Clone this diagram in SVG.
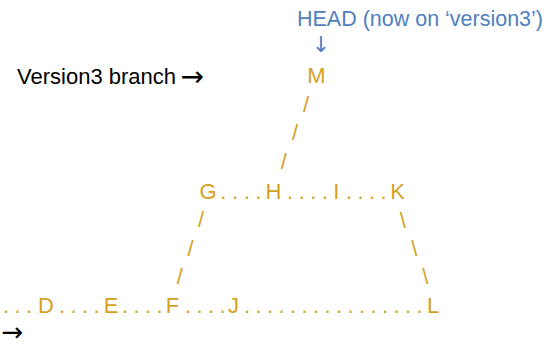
<svg xmlns="http://www.w3.org/2000/svg" width="548" height="347" viewBox="0 0 548 347">
  <style>
    text { font-family: 'Liberation Sans', Arial, sans-serif; font-size: 22px; }
    .commit { fill: #D6A01E; text-anchor: middle; }
    .link { fill: #D6A01E; text-anchor: middle; }
    .head { fill: #4F81BD; }
    .label { fill: #000000; }
    .arrow { font-family: 'DejaVu Sans', sans-serif; font-size: 28px; }
    .down { font-family: 'DejaVu Sans', sans-serif; font-size: 22px; }
  </style>
  <rect width="548" height="347" fill="#FFFFFF"/>

  <!-- labels -->
  <g id="head-label">
    <text class="head" x="297" y="26" textLength="246" lengthAdjust="spacingAndGlyphs">HEAD (now on ‘version3’)</text>
    <text class="head down" x="321" y="52" text-anchor="middle">↓</text>
  </g>
  <g id="branch-label">
    <text class="label" x="17" y="84">Version3 branch <tspan class="arrow" x="180.5" y="86">→</tspan></text>
  </g>
  <g id="main-label">
    <text class="label arrow" x="1.5" y="340.5" style="font-size:26px">→</text>
  </g>

  <!-- commits -->
  <g id="node-M"><text class="commit" x="316.5" y="83">M</text></g>
  <g id="node-G"><text class="commit" x="208" y="199">G</text></g>
  <g id="node-H"><text class="commit" x="273.5" y="199">H</text></g>
  <g id="node-I"><text class="commit" x="336.3" y="199">I</text></g>
  <g id="node-K"><text class="commit" x="397.5" y="199">K</text></g>
  <g id="node-D"><text class="commit" x="46" y="313">D</text></g>
  <g id="node-E"><text class="commit" x="111" y="313">E</text></g>
  <g id="node-F"><text class="commit" x="172.5" y="313">F</text></g>
  <g id="node-J"><text class="commit" x="233.5" y="313">J</text></g>
  <g id="node-L"><text class="commit" x="433" y="313">L</text></g>

  <!-- connectors: dotted runs and slanted strokes -->
  <g id="connectors">
    <text class="link" x="223.3 235 246.7 258.3" y="199">....</text>
    <text class="link" x="290 301.7 313.3 325" y="199">....</text>
    <text class="link" x="349 360.5 372 383.5" y="199">....</text>

    <text class="link" x="6 17.5 29" y="313">...</text>
    <text class="link" x="62 73.5 85 96.5" y="313">....</text>
    <text class="link" x="125 136.5 148 159.5" y="313">....</text>
    <text class="link" x="188 199.5 211 222.5" y="313">....</text>
    <text class="link" x="247 258.5 270 281.5 293 304.5 316 327.5 339 350.5 362 373.5 385 396.5 408 419.5" y="313">................</text>

    <text class="link" x="306 295 283.7" y="112 140 168.5">///</text>
    <text class="link" x="201 190.5 179.7" y="227 256 284">///</text>
    <text class="link" x="402.7 414.3 425.2" y="227.5 256 284">\\\</text>
  </g>
</svg>
